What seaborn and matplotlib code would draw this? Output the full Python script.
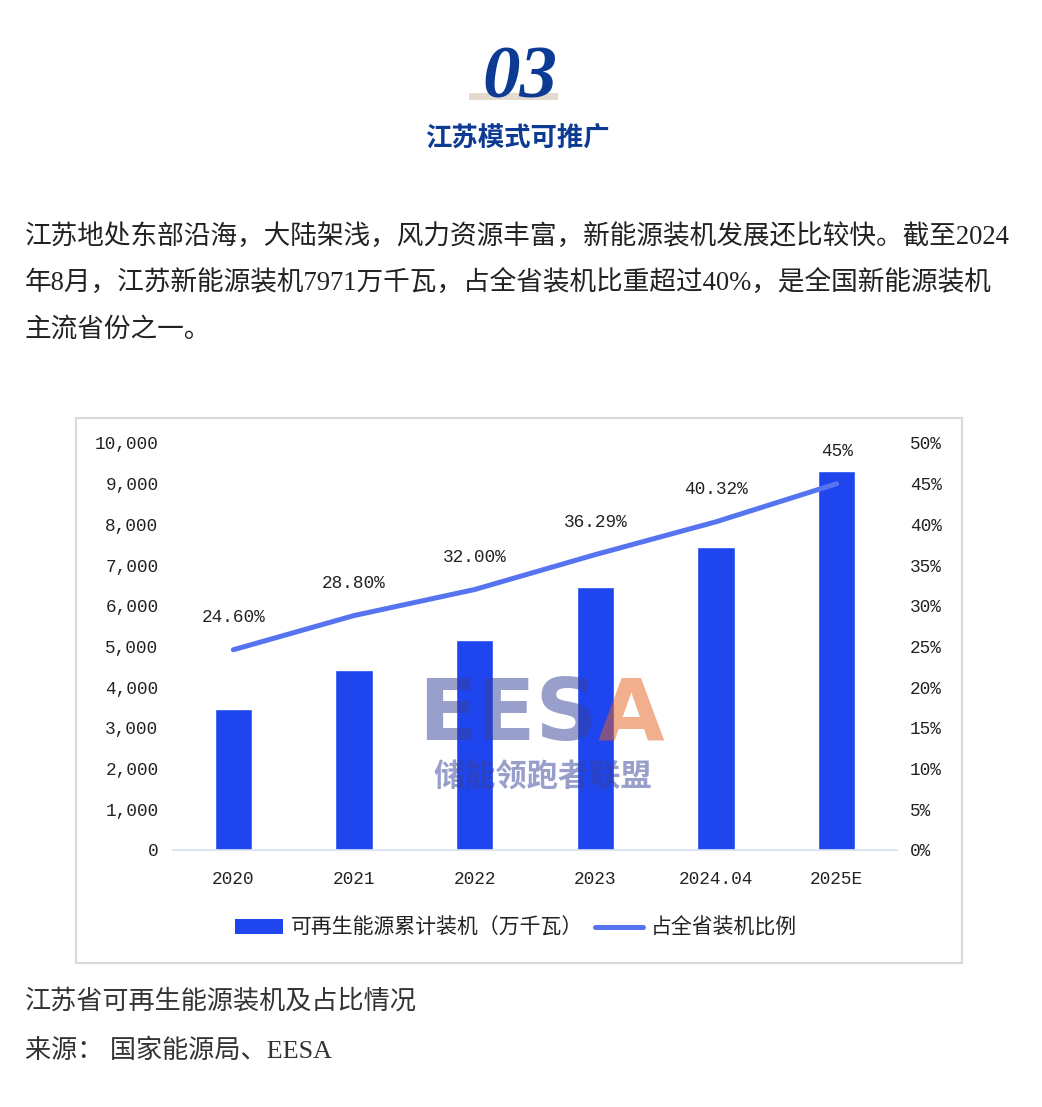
import matplotlib
matplotlib.use("Agg")
import matplotlib.pyplot as plt
import seaborn as sns
import numpy as np
from matplotlib.patches import Rectangle, Patch
from matplotlib.lines import Line2D

# ---------------- data ----------------
categories = ["2020", "2021", "2022", "2023", "2024.04", "2025E"]
capacity = [3470, 4430, 5170, 6460, 7450, 9320]          # 万千瓦
share = [24.60, 28.80, 32.00, 36.29, 40.32, 45.0]         # %
share_labels = ["24.60%", "28.80%", "32.00%", "36.29%", "40.32%", "45%"]
left_ticks = [0, 1000, 2000, 3000, 4000, 5000, 6000, 7000, 8000, 9000, 10000]
right_ticks = [0, 5, 10, 15, 20, 25, 30, 35, 40, 45, 50]
legend_labels = ["可再生能源累计装机（万千瓦）", "占全省装机比例"]

section_no = "03"
section_title = "江苏模式可推广"
paragraph = [
    "江苏地处东部沿海，大陆架浅，风力资源丰富，新能源装机发展还比较快。截至2024",
    "年8月，江苏新能源装机7971万千瓦，占全省装机比重超过40%，是全国新能源装机",
    "主流省份之一。",
]
caption = "江苏省可再生能源装机及占比情况"
source = "来源： 国家能源局、EESA"

# ---------------- style ----------------
W, H = 1042, 1107
sns.set_theme(style="white")
plt.rcParams["font.family"] = ["Noto Sans CJK SC", "DejaVu Sans"]

BAR = "#1f45ee"
LINE = "#5674f0"
NAVY = "#0d3b93"
TXT = "#222222"
CJK_SERIF = ["Liberation Serif", "Noto Sans CJK SC"]
MONO = ["Liberation Mono", "Noto Sans CJK SC"]

fig = plt.figure(figsize=(W / 100, H / 100), dpi=100)
fig.patch.set_facecolor("white")


def fx(x):
    return x / W


def fy(y):
    return 1 - y / H


# header
fig.patches.append(Rectangle((fx(469), fy(100)), fx(558) - fx(469), (100 - 93) / H,
                             transform=fig.transFigure, facecolor="#e4dad0",
                             edgecolor="none", zorder=0))
fig.text(fx(520), fy(97), section_no, family="Liberation Serif", style="italic",
         weight="bold", fontsize=54, color=NAVY, ha="center", va="baseline", zorder=2)
fig.text(fx(517), fy(139), section_title, fontsize=19, weight="bold", color=NAVY,
         ha="center", va="center")

# paragraph
for i, line in enumerate(paragraph):
    fig.text(fx(25), fy(237 + i * 46.5), line, family=CJK_SERIF, fontsize=19.2,
             color=TXT, ha="left", va="center")

# chart box
fig.patches.append(Rectangle((fx(76), fy(963)), fx(962) - fx(76), (963 - 418) / H,
                             transform=fig.transFigure, facecolor="none",
                             edgecolor="#d9d9d9", lw=1.5))

# axes
ax = fig.add_axes([fx(173), fy(850), fx(897) - fx(173), (850 - 443) / H])
ax.set_facecolor("none")
sns.barplot(x=categories, y=capacity, color=BAR, saturation=1, width=0.31, ax=ax,
            zorder=2)
ax.set_xlim(-0.5, len(categories) - 0.5)
ax.set_ylim(0, 10000)
ax.set_yticks(left_ticks)
ax.set_yticklabels([f"{v:,}" for v in left_ticks], family=MONO, fontsize=12.8,
                   color="#222222")
ax.set_xticks(range(len(categories)))
ax.set_xticklabels(categories, family=MONO, fontsize=12.8, color="#222222")
ax.tick_params(axis="y", length=0, pad=10.5)
ax.tick_params(axis="x", length=0, pad=15)
for s in ["top", "left", "right"]:
    ax.spines[s].set_visible(False)
ax.spines["bottom"].set_color("#d5def3")
ax.spines["bottom"].set_linewidth(1.2)
ax.set_xlabel("")
ax.set_ylabel("")

ax2 = ax.twinx()
sns.lineplot(x=np.arange(len(categories)), y=share, color=LINE, lw=3.6, ax=ax2,
             sort=False, zorder=3, solid_capstyle="round")
ax2.set_ylim(0, 50)
ax2.set_yticks(right_ticks)
ax2.set_yticklabels([f"{v}%" for v in right_ticks], family=MONO, fontsize=12.8,
                    color="#222222")
ax2.tick_params(axis="y", length=0, pad=9.5)
for s in ["top", "left", "right", "bottom"]:
    ax2.spines[s].set_visible(False)
ax2.set_ylabel("")
for i, (v, lab) in enumerate(zip(share, share_labels)):
    ax2.annotate(lab, (i, v), xytext=(0, 23), textcoords="offset points",
                 ha="center", va="center", family=MONO, fontsize=12.8,
                 color="#222222")

# legend
handles = [Patch(facecolor=BAR, edgecolor="none"),
           Line2D([], [], color=LINE, lw=3.6)]
fig.legend(handles, legend_labels, loc="center", bbox_to_anchor=(fx(516), fy(928)),
           ncol=2, frameon=False, fontsize=15, handlelength=2.3, handleheight=0.7,
           handletextpad=0.35, columnspacing=0.6, labelcolor="#222222")

# watermark
wm = dict(fontsize=62, weight="bold", family="DejaVu Sans", alpha=0.5, zorder=10,
          va="baseline", ha="left")
fig.text(fx(418), fy(740), "EES", color="#354199", **wm)
fig.text(fx(598), fy(740), "A", color="#e5611f", **wm)
fig.text(fx(543), fy(778), "储能领跑者联盟", fontsize=22.5, weight="bold", color="#354199",
         alpha=0.5, ha="center", va="center", zorder=10)

# caption
fig.text(fx(25), fy(1001), caption, fontsize=18.8, color="#333333", ha="left",
         va="center")
fig.text(fx(25), fy(1051), source, family=CJK_SERIF, fontsize=18.8, color="#333333",
         ha="left", va="center")

fig.savefig("out.png", dpi=100, facecolor="white")
